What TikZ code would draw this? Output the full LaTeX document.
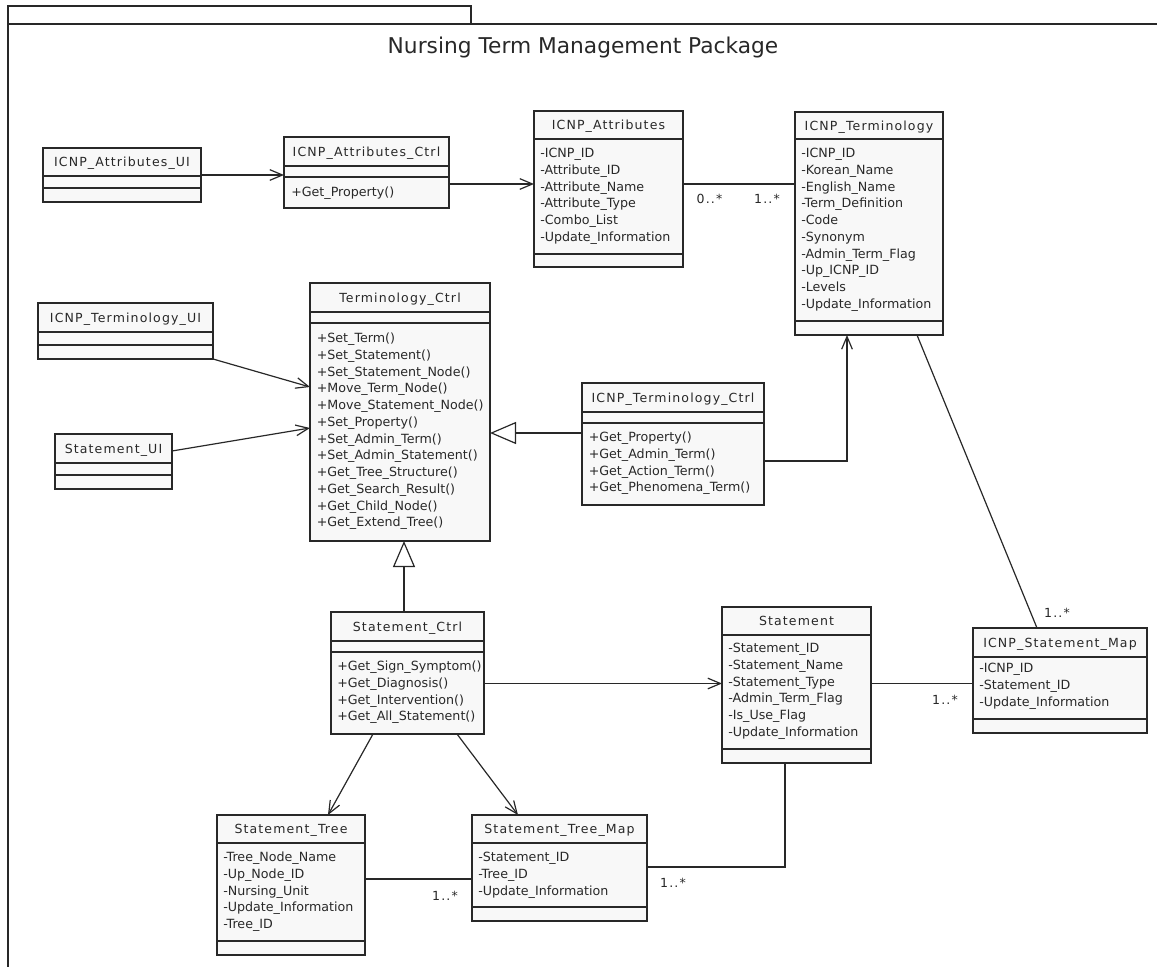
\documentclass[tikz,border=0pt]{standalone}
\usepackage{fontspec}
\setmainfont{DejaVu Sans}
\newfontfamily\namefont[LetterSpace=9]{DejaVu Sans}
\usetikzlibrary{arrows.meta}

\definecolor{ink}{RGB}{40,40,40}
\definecolor{boxfill}{RGB}{248,248,248}

\tikzset{
  classbox/.style={rectangle, draw=ink, fill=boxfill, line width=1.1pt, inner sep=0pt, outer sep=0pt},
  classsep/.style={draw=ink, line width=1.1pt},
  clsname/.style={font={\namefont\fontsize{9.4pt}{11pt}\selectfont}, anchor=base, inner sep=0pt, text=ink},
  member/.style={font={\fontsize{9.5pt}{11pt}\selectfont}, anchor=base west, inner sep=0pt, text=ink},
  mult/.style={font={\namefont\fontsize{9.4pt}{11pt}\selectfont}, anchor=base, inner sep=0pt, text=ink},
  conn/.style={draw=ink, line width=0.9pt},
  dep/.style={conn, -{Straight Barb[length=9.5pt,width=8pt]}},
  gen/.style={conn, -{Triangle[length=19.5pt,width=16.5pt,fill=white]}},
  assoc/.style={conn},
  frameline/.style={draw=ink, line width=0.8pt},
}

% class box: name, x1, top, x2, bottom, first separator, second separator, class name
\newcommand\umlclass[8]{%
  \node[classbox, minimum width={(#4-#2)*0.75pt}, minimum height={(#5-#3)*0.75pt}]
    (#1) at ({(#2+#4)/2},{(#3+#5)/2}) {};
  \draw[classsep] (#2,#6) -- (#4,#6) (#2,#7) -- (#4,#7);
  \node[clsname] (#1-name) at ({(#2+#4)/2},{(#3+#6)/2+4.5}) {#8};
}
% member list: prefix, text x, first row centre, entries
\newcommand\memberlist[4]{%
  \foreach \t [count=\i from 1] in {#4}
    {\node[member] (#1-\i) at ({#2},{#3+(\i-1)*16.75+4.5}) {\t};}
}

\begin{document}
\begin{tikzpicture}[x=0.75pt,y=-0.75pt]
\useasboundingbox (0,0) rectangle (1157,967);

% package frame
\draw[frameline] (8,967) -- (8,6) -- (471,6) -- (471,24);
\draw[frameline] (8,24) -- (1157,24);
\node[anchor=base, inner sep=0pt, text=ink, font={\fontsize{16.3pt}{19pt}\selectfont}]
  (pkgtitle) at (583,53) {Nursing Term Management Package};

% classes
\umlclass{attui}{43}{148}{201}{202}{176}{188}{ICNP\_Attributes\_UI}

\umlclass{attctrl}{284}{137}{449}{208}{166}{177}{ICNP\_Attributes\_Ctrl}
\memberlist{attctrl-op}{291}{192}{+Get\_Property()}

\umlclass{attr}{534}{111}{683}{267}{139}{254}{ICNP\_Attributes}
\memberlist{attr-at}{540}{153}{-ICNP\_ID,-Attribute\_ID,-Attribute\_Name,-Attribute\_Type,-Combo\_List,-Update\_Information}

\umlclass{term}{795}{112}{943}{335}{139}{321}{ICNP\_Terminology}
\memberlist{term-at}{801}{153}{-ICNP\_ID,-Korean\_Name,-English\_Name,-Term\_Definition,-Code,-Synonym,-Admin\_Term\_Flag,-Up\_ICNP\_ID,-Levels,-Update\_Information}

\umlclass{termui}{38}{303}{213}{359}{332}{345}{ICNP\_Terminology\_UI}

\umlclass{stui}{55}{434}{172}{489}{463}{475}{Statement\_UI}

\umlclass{tctrl}{310}{283}{490}{541}{312}{323}{Terminology\_Ctrl}
\memberlist{tctrl-op}{316.5}{338}{+Set\_Term(),+Set\_Statement(),+Set\_Statement\_Node(),+Move\_Term\_Node(),+Move\_Statement\_Node(),+Set\_Property(),+Set\_Admin\_Term(),+Set\_Admin\_Statement(),+Get\_Tree\_Structure(),+Get\_Search\_Result(),+Get\_Child\_Node(),+Get\_Extend\_Tree()}

\umlclass{itctrl}{582}{383}{764}{505}{412}{423}{ICNP\_Terminology\_Ctrl}
\memberlist{itctrl-op}{588.5}{437}{+Get\_Property(),+Get\_Admin\_Term(),+Get\_Action\_Term(),+Get\_Phenomena\_Term()}

\umlclass{sctrl}{331}{612}{484}{734}{641}{652}{Statement\_Ctrl}
\memberlist{sctrl-op}{337}{666}{+Get\_Sign\_Symptom(),+Get\_Diagnosis(),+Get\_Intervention(),+Get\_All\_Statement()}

\umlclass{stmt}{722}{607}{871}{763}{635}{749}{Statement}
\memberlist{stmt-at}{728}{648}{-Statement\_ID,-Statement\_Name,-Statement\_Type,-Admin\_Term\_Flag,-Is\_Use\_Flag,-Update\_Information}

\umlclass{smap}{973}{628}{1147}{733}{657}{719}{ICNP\_Statement\_Map}
\memberlist{smap-at}{979}{668}{-ICNP\_ID,-Statement\_ID,-Update\_Information}

\umlclass{stree}{217}{815}{365}{955}{843}{941}{Statement\_Tree}
\memberlist{stree-at}{223}{857}{-Tree\_Node\_Name,-Up\_Node\_ID,-Nursing\_Unit,-Update\_Information,-Tree\_ID}

\umlclass{stmap}{472}{815}{647}{921}{843}{907}{Statement\_Tree\_Map}
\memberlist{stmap-at}{478}{857}{-Statement\_ID,-Tree\_ID,-Update\_Information}

% connector rows and columns
\coordinate (rowB) at (0,184);
\coordinate (rowC) at (0,387);
\coordinate (rowD) at (0,451);
\coordinate (rowE) at (0,428);
\coordinate (rowF) at (0,433);
\coordinate (rowG) at (0,461);
\coordinate (rowK) at (0,683.5);
\coordinate (rowQ) at (0,879);
\coordinate (rowR) at (0,867);
\coordinate (colG) at (847,0);
\coordinate (colH) at (917,0);
\coordinate (colI) at (1037,0);
\coordinate (colJ) at (404,0);
\coordinate (colM) at (373,0);
\coordinate (colN) at (328,0);
\coordinate (colO) at (457,0);
\coordinate (colP) at (518,0);
\coordinate (colS) at (785,0);

% connectors
\draw[dep] (attui.east) -- (attui.east -| attctrl.west);
\draw[dep] (attctrl.east |- rowB) -- (attr.west |- rowB);
\draw[assoc] (attr.east |- rowB) -- (term.west |- rowB);
\draw[dep] (termui.south east) -- (tctrl.west |- rowC);
\draw[dep] (stui.east |- rowD) -- (tctrl.west |- rowE);
\draw[gen] (itctrl.west |- rowF) -- (tctrl.east |- rowF);
\draw[dep] (itctrl.east |- rowG) -| (term.south -| colG);
\draw[assoc] (term.south -| colH) -- (smap.north -| colI);
\draw[gen] (sctrl.north -| colJ) -- (tctrl.south -| colJ);
\draw[dep] (sctrl.east |- rowK) -- (stmt.west |- rowK);
\draw[assoc] (stmt.east |- rowK) -- (smap.west |- rowK);
\draw[dep] (sctrl.south -| colM) -- (stree.north -| colN);
\draw[dep] (sctrl.south -| colO) -- (stmap.north -| colP);
\draw[assoc] (stree.east |- rowQ) -- (stmap.west |- rowQ);
\draw[assoc] (stmap.east |- rowR) -| (stmt.south -| colS);

% multiplicities
\node[mult] (m-attr) at (709.5,203) {0..*};
\node[mult] (m-term) at (767,203) {1..*};
\node[mult] (m-smapt) at (1057,617) {1..*};
\node[mult] (m-smaps) at (945,704) {1..*};
\node[mult] (m-stree) at (445,900) {1..*};
\node[mult] (m-stmt) at (673,887) {1..*};
\end{tikzpicture}
\end{document}
